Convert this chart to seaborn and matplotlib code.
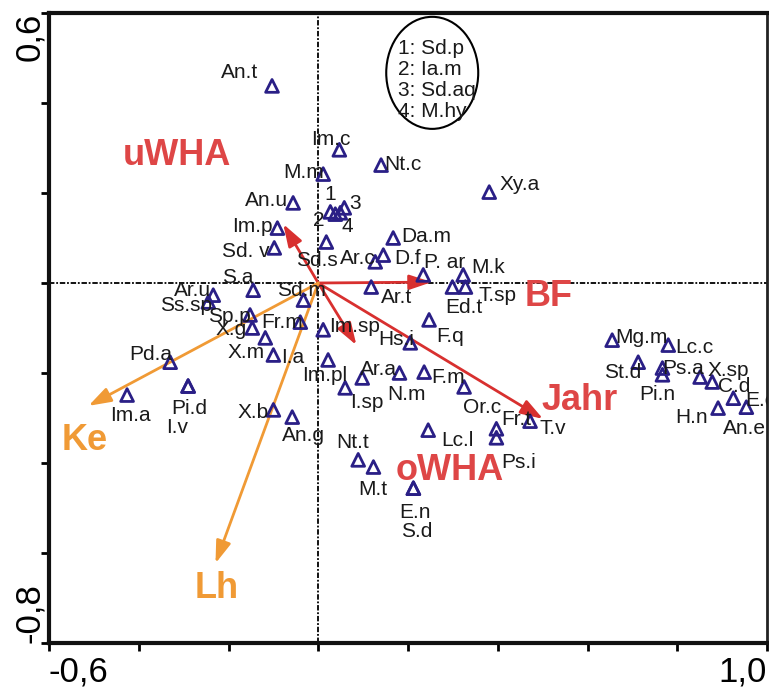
import numpy as np
import pandas as pd
import matplotlib
matplotlib.use("Agg")
import matplotlib.pyplot as plt
from matplotlib.patches import Ellipse
import seaborn as sns

# Species scores (axis 1, axis 2)
species = ["An.t", "Im.c", "Nt.c", "Xy.a", "M.m", "An.u", "1", "2", "3", "4",
           "Im.p", "Sd. v", "Sd.s", "Da.m", "D.f", "Ar.c", "P. ar", "M.k", "Ed.t", "T.sp",
           "Ar.t", "S.a", "Sd.m", "Ar.u", "Ss.sp", "Sp.p", "X.g", "Fr.m", "X.m", "I.a",
           "Im.sp", "Hs.i", "F.q", "Im.pl", "Ar.a", "I.sp", "N.m", "F.m", "Or.c", "X.b",
           "An.g", "Lc.l", "Fr.t", "Ps.i", "T.v", "Nt.t", "M.t", "E.n", "S.d", "Im.a",
           "Pd.a", "Pi.d", "I.v", "Mg.m", "Lc.c", "St.d", "Ps.a", "Pi.n", "X.sp", "C.d",
           "E.c", "An.e", "H.n"]
axis1 = [-0.103, 0.047, 0.140, 0.381, 0.011, -0.056, 0.027, 0.038, 0.058, 0.049,
         -0.091, -0.098, 0.018, 0.167, 0.145, 0.127, 0.234, 0.323, 0.299, 0.328,
         0.118, -0.145, -0.033, -0.234, -0.245, -0.152, -0.147, -0.040, -0.118, -0.100,
         0.011, 0.205, 0.247, 0.022, 0.098, 0.060, 0.181, 0.236, 0.325, -0.100,
         -0.058, 0.245, 0.397, 0.397, 0.472, 0.089, 0.123, 0.212, 0.212, -0.426,
         -0.330, -0.290, -0.290, 0.655, 0.780, 0.713, 0.767, 0.767, 0.851, 0.878,
         0.925, 0.954, 0.891]
axis2 = [0.438, 0.296, 0.262, 0.202, 0.242, 0.178, 0.158, 0.153, 0.167, 0.156,
         0.122, 0.078, 0.091, 0.100, 0.062, 0.047, 0.018, 0.018, -0.009, -0.009,
         -0.009, -0.016, -0.038, -0.027, -0.042, -0.071, -0.100, -0.087, -0.122, -0.160,
         -0.104, -0.133, -0.082, -0.171, -0.211, -0.233, -0.200, -0.198, -0.231, -0.282,
         -0.298, -0.327, -0.324, -0.344, -0.307, -0.393, -0.409, -0.456, -0.456, -0.249,
         -0.176, -0.229, -0.229, -0.127, -0.138, -0.176, -0.189, -0.204, -0.209, -0.220,
         -0.256, -0.276, -0.278]

# Environmental vectors
env_names = ["uWHA", "BF", "oWHA", "Jahr", "Ke", "Lh"]
env_axis1 = [-0.078, 0.253, 0.085, 0.501, -0.512, -0.229]
env_axis2 = [0.131, 0.002, -0.138, -0.302, -0.273, -0.623]

# Legend for the numbered species
legend_lines = ["1: Sd.p", "2: Ia.m", "3: Sd.aq", "4: M.hy"]

# Label placement (pixel offsets from the marker, +y = up)
label_offsets = {
    "An.t": (-32, 13), "Im.c": (-9, 10), "Nt.c": (22, 1), "Xy.a": (30, 8),
    "M.m": (-20, 2), "An.u": (-27, 2), "1": (0, 17), "2": (-17, -6),
    "3": (11, 4), "4": (7, -14), "Im.p": (-25, 2), "Sd. v": (-28, -4),
    "Sd.s": (-9, -18), "Da.m": (33, 1), "D.f": (24, -3), "Ar.c": (-17, 3),
    "P. ar": (21, 12), "M.k": (25, 7), "Ed.t": (11, -20), "T.sp": (32, -8),
    "Ar.t": (25, -10), "S.a": (-15, 13), "Sd.m": (-2, 10), "Ar.u": (-21, 5),
    "Ss.sp": (-22, -4), "Sp.p": (-21, -2), "X.g": (-21, -2), "Fr.m": (-18, 0),
    "X.m": (-19, -15), "I.a": (19, -3), "Im.sp": (31, 3), "Hs.i": (-14, 3),
    "F.q": (21, -17), "Im.pl": (-3, -16), "Ar.a": (16, 8), "I.sp": (22, -15),
    "N.m": (7, -22), "F.m": (24, -5), "Or.c": (18, -21), "X.b": (-20, -3),
    "An.g": (11, -18), "Lc.l": (29, -10), "Fr.t": (20, 9), "Ps.i": (22, -25),
    "T.v": (23, -7), "Nt.t": (-6, 17), "M.t": (-1, -22), "E.n": (2, -24),
    "S.d": (3, -43), "Im.a": (3, -20), "Pd.a": (-19, 8), "Pi.d": (1, -22),
    "I.v": (-11, -41), "Mg.m": (29, 3), "Lc.c": (26, -2), "St.d": (-16, -10),
    "Ps.a": (21, 0), "Pi.n": (-5, -20), "X.sp": (28, 7), "C.d": (22, -5),
    "E.c": (27, -2), "An.e": (-2, -21), "H.n": (-27, -9),
}
env_label_pos = {
    "uWHA": (-0.316, 0.284), "BF": (0.513, -0.031), "oWHA": (0.292, -0.416),
    "Jahr": (0.582, -0.262), "Ke": (-0.521, -0.349), "Lh": (-0.227, -0.680),
}
RED = "#d8302f"
RED_TXT = "#de4646"
ORANGE = "#f09a35"
env_colors = {"uWHA": RED, "BF": RED, "oWHA": RED, "Jahr": RED,
              "Ke": ORANGE, "Lh": ORANGE}
env_text_colors = {"uWHA": RED_TXT, "BF": RED_TXT, "oWHA": RED_TXT,
                   "Jahr": RED_TXT, "Ke": ORANGE, "Lh": ORANGE}
NAVY = "#2a1f86"

sns.set_style("white")
plt.rcParams["font.family"] = ["Liberation Sans", "DejaVu Sans"]

df = pd.DataFrame({"species": species, "axis1": axis1, "axis2": axis2})

fig = plt.figure(figsize=(7.69, 6.89), dpi=100)
ax = fig.add_axes([49 / 769, 46 / 689, 718 / 769, 630 / 689])

ax.set_xlim(-0.6, 1.0)
ax.set_ylim(-0.8, 0.6)

# zero lines
ax.axhline(0, color="black", lw=1.3, ls=(0, (3, 1, 1, 1)), zorder=1)
ax.axvline(0, color="black", lw=1.3, ls=(0, (3, 1, 1, 1)), zorder=1)

# environmental arrows
for name, ex, ey in zip(env_names, env_axis1, env_axis2):
    ax.annotate("", xy=(ex, ey), xytext=(0, 0),
                arrowprops=dict(arrowstyle="-|>,head_length=0.9,head_width=0.3",
                                color=env_colors[name], lw=2.0,
                                mutation_scale=15, shrinkA=0, shrinkB=0),
                zorder=2)
    lx, ly = env_label_pos[name]
    ax.text(lx, ly, name, color=env_text_colors[name], fontsize=26,
            fontweight="bold", ha="center", va="center", zorder=3)

# species scores
sns.scatterplot(data=df, x="axis1", y="axis2", marker="^", s=85,
                facecolor="none", edgecolor=NAVY, linewidth=2.0,
                ax=ax, zorder=4, legend=False)

for sp, x, y in zip(species, axis1, axis2):
    dx, dy = label_offsets[sp]
    ax.annotate(sp, xy=(x, y), xytext=(dx * 0.72, dy * 0.72),
                textcoords="offset points", ha="center", va="center",
                fontsize=15, color="#1a1a1a", zorder=5,
                annotation_clip=False, clip_on=True)

# numbered species key
ax.add_patch(Ellipse((0.254, 0.467), 0.205, 0.249, fill=False,
                     edgecolor="black", lw=1.5, zorder=3))
for i, line in enumerate(legend_lines):
    ax.text(0.178, 0.522 - i * 0.047, line, fontsize=15, color="#1a1a1a",
            ha="left", va="center", zorder=5)

# axes styling
ax.set_xlabel("")
ax.set_ylabel("")
xt = np.round(np.arange(-0.6, 1.001, 0.2), 1)
yt = np.round(np.arange(-0.8, 0.601, 0.2), 1)
ax.set_xticks(xt)
ax.set_yticks(yt)
ax.set_xticklabels(["-0,6" if v == -0.6 else ("1,0" if v == 1.0 else "") for v in xt])
ax.set_yticklabels(["-0,8" if v == -0.8 else ("0,6" if v == 0.6 else "") for v in yt],
                   rotation=90)
ax.tick_params(axis="both", direction="out", length=6, width=2, labelsize=25,
               colors="black", bottom=True, left=True, top=False, right=False)
ax.tick_params(axis="x", pad=3)
ax.tick_params(axis="y", pad=8)
for lab, v in zip(ax.get_xticklabels(), xt):
    lab.set_ha("left" if v == -0.6 else "right")
for lab, v in zip(ax.get_yticklabels(), yt):
    lab.set_va("top" if v == 0.6 else "bottom")
    lab.set_ha("center")

for side in ["left", "bottom", "top"]:
    ax.spines[side].set_linewidth(3)
    ax.spines[side].set_color("#111111")
ax.spines["right"].set_linewidth(2)
ax.spines["right"].set_color("#222222")

fig.savefig("out.png", dpi=100)
